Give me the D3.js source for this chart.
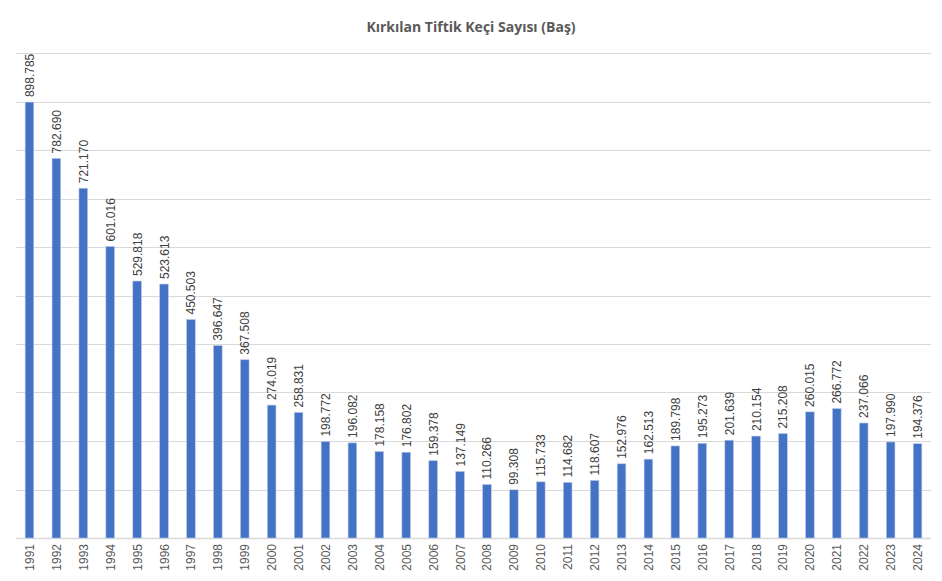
<!DOCTYPE html>
<html>
<head>
<meta charset="utf-8">
<script src="https://cdn.jsdelivr.net/npm/d3@7"></script>
<style>
  body { margin: 0; background: #fff; }
  svg { display: block; }
</style>
</head>
<body>
<svg id="chart" width="942" height="581"></svg>
<script>
// yıllar ve kırkılan tiftik keçi sayıları
var years = ['1991','1992','1993','1994','1995','1996','1997','1998','1999','2000',
  '2001','2002','2003','2004','2005','2006','2007','2008','2009','2010',
  '2011','2012','2013','2014','2015','2016','2017','2018','2019','2020',
  '2021','2022','2023','2024'];
var counts = [898785, 782690, 721170, 601016, 529818, 523613, 450503, 396647, 367508, 274019,
  258831, 198772, 196082, 178158, 176802, 159378, 137149, 110266, 99308, 115733,
  114682, 118607, 152976, 162513, 189798, 195273, 201639, 210154, 215208, 260015,
  266772, 237066, 197990, 194376];
var gridTicks = [0, 100000, 200000, 300000, 400000, 500000, 600000, 700000, 800000, 900000, 1000000];
var title = 'Kırkılan Tiftik Keçi Sayısı (Baş)';

var svg = d3.select('#chart');
var plotLeft = 16, plotRight = 931, plotTop = 53, plotBottom = 538;

var x = d3.scaleBand()
  .domain(years)
  .range([plotLeft, plotRight])
  .paddingInner(0.68)
  .paddingOuter(0.34);

var y = d3.scaleLinear()
  .domain([0, 1000000])
  .range([plotBottom, plotTop]);

var fmt = function (v) {
  return d3.format(',')(v).replace(/,/g, '.');
};

svg.append('text')
  .attr('x', 471)
  .attr('y', 32)
  .attr('text-anchor', 'middle')
  .style('font-family', '"Open Sans", "Liberation Sans", sans-serif')
  .style('font-size', '14px')
  .style('font-weight', 'bold')
  .style('fill', '#595959')
  .text(title);

// yatay kılavuz çizgileri
svg.append('g')
  .selectAll('line')
  .data(gridTicks)
  .enter()
  .append('line')
  .attr('x1', plotLeft)
  .attr('x2', plotRight)
  .attr('y1', function (d) { return Math.round(y(d)) + 0.5; })
  .attr('y2', function (d) { return Math.round(y(d)) + 0.5; })
  .attr('stroke', '#d9d9d9')
  .attr('stroke-width', function (d) { return d === 0 ? 1.5 : 1; });

svg.append('g')
  .selectAll('rect')
  .data(counts)
  .enter()
  .append('rect')
  .attr('x', function (d, i) { return x(years[i]); })
  .attr('y', function (d) { return y(d); })
  .attr('width', x.bandwidth())
  .attr('height', function (d) { return plotBottom - y(d); })
  .attr('fill', '#4472c4')
  .attr('stroke', '#b4c7e7')
  .attr('stroke-width', 0.6);

// değer etiketleri
svg.append('g')
  .selectAll('text')
  .data(counts)
  .enter()
  .append('text')
  .attr('transform', function (d, i) {
    var cx = x(years[i]) + x.bandwidth() / 2;
    return 'translate(' + (cx + 4.5) + ',' + (y(d) - 5) + ') rotate(-90)';
  })
  .style('font-family', '"Liberation Sans", Arial, sans-serif')
  .style('font-size', '12px')
  .style('fill', '#404040')
  .text(fmt);

// yıl etiketleri
svg.append('g')
  .selectAll('text')
  .data(years)
  .enter()
  .append('text')
  .attr('transform', function (d) {
    var cx = x(d) + x.bandwidth() / 2;
    return 'translate(' + (cx + 4.5) + ',' + (plotBottom + 6) + ') rotate(-90)';
  })
  .attr('text-anchor', 'end')
  .style('font-family', '"Liberation Sans", Arial, sans-serif')
  .style('font-size', '12px')
  .style('fill', '#595959')
  .text(function (d) { return d; });
</script>
</body>
</html>
